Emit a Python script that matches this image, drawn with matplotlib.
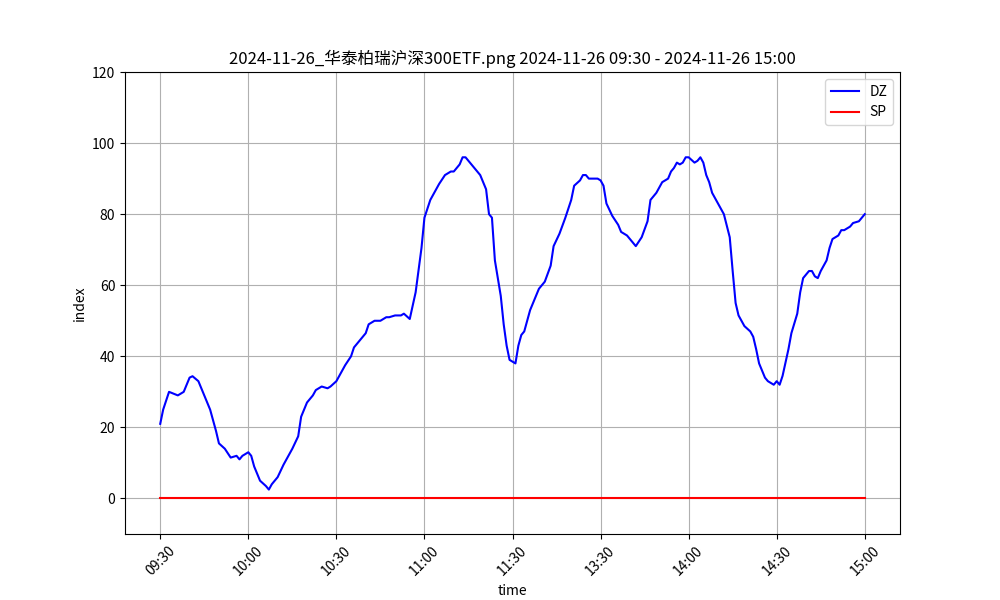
import matplotlib
matplotlib.use("Agg")
import matplotlib.pyplot as plt

plt.rcParams['font.family'] = ['Noto Sans CJK SC', 'DejaVu Sans']

minutes = [0,1,3,6,8,9,10,11,13,15,17,19,20,22,24,26,27,28,30,31,32,34,36,37,38,40,42,43,45,47,48,50,52,53,54,55,57,58,60,61,63,65,66,68,70,71,73,75,77,78,80,82,83,85,87,89,90,92,94,95,97,99,100,102,103,104,106,107,109,111,112,113,114,116,117,118,119,121,122,123,124,126,128,129,131,133,134,136,138,140,141,143,144,145,146,149,150,151,152,154,156,157,159,161,162,164,166,167,169,171,173,174,175,176,177,178,179,180,182,183,184,185,186,187,188,190,192,194,195,196,197,199,201,202,203,204,206,207,208,209,210,211,212,214,215,217,218,219,221,222,223,224,225,227,228,229,231,232,233,235,236,238,239,240]
dz = [21,25,30,29,30,32,34,34.4,33,29,25,19,15.5,14,11.5,12,11,12,13,12,9,5,3.5,2.5,4,6,9.5,11,14,17.5,23,27,29,30.5,31,31.5,31,31.5,33,34.5,37.5,40,42.5,44.5,46.5,49,50,50,51,51,51.5,51.5,52,50.5,58,70.5,79,84,87,88.5,91,92,92,94,96,96,94,93,91,87,80,79,67,57,49,43,39,38,43,46,47,53,57,59,61,65.5,71,74.5,79,84,88,89.5,91,91,90,90,89.5,88,83,79.5,77,75,74,72,71,73.5,78,84,86,89,90,92,93,94.5,94,94.5,96,96,94.5,95,96,94.5,91,89,86,83,80,73.5,64,55,51.5,48.5,47,45.5,42,38,34,33,32.5,32,33,32,34.5,42,46.5,52,58,62,64,64,62.5,62,64,67,70.5,73,74,75.5,75.5,76.5,77.5,78,79,80]
sp = [0] * len(minutes)

tick_pos = [0,30,60,90,120,150,180,210,240]
tick_labels = ["09:30","10:00","10:30","11:00","11:30","13:30","14:00","14:30","15:00"]

fig, ax = plt.subplots(figsize=(10, 6), dpi=100)
ax.plot(minutes, dz, color='blue', label='DZ')
ax.plot(minutes, sp, color='red', label='SP')
ax.set_ylim(-10, 120)
ax.set_xticks(tick_pos)
ax.set_xticklabels(tick_labels, rotation=45)
ax.set_xlabel('time')
ax.set_ylabel('index')
ax.set_title('2024-11-26_华泰柏瑞沪深300ETF.png 2024-11-26 09:30 - 2024-11-26 15:00')
ax.grid(True)
ax.legend(loc='upper right')
fig.savefig('out.png')
